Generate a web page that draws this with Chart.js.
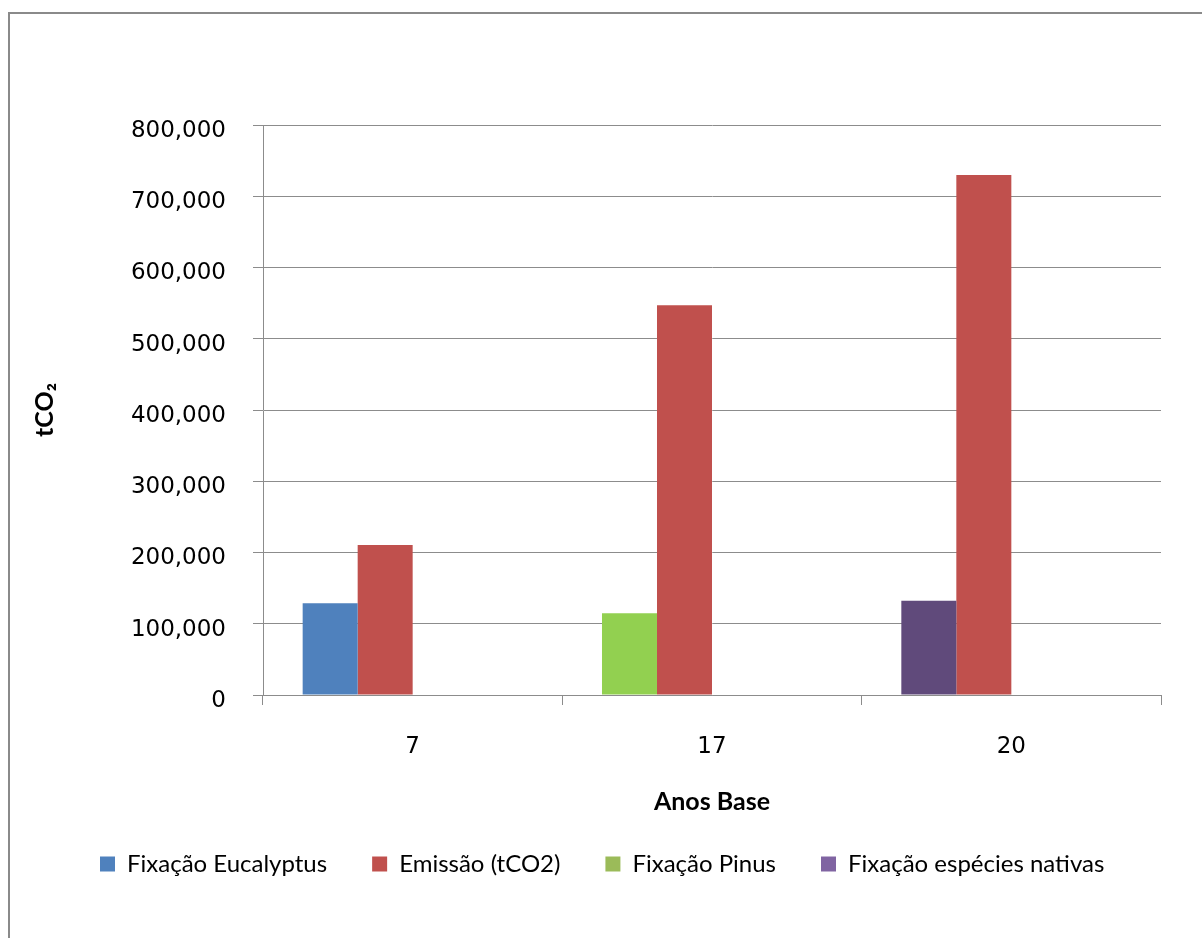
<!DOCTYPE html>
<html>
<head>
<meta charset="utf-8">
<script src="https://cdn.jsdelivr.net/npm/chart.js@4"></script>
<style>
  html, body { margin: 0; padding: 0; background: #fff; }
  #wrap { position: relative; width: 1202px; height: 938px; }
</style>
</head>
<body>
<div id="wrap"><canvas id="grafico"></canvas></div>
<script>
// anos base (eixo x)
const anosBase = ['7', '17', '20'];

// fixação: um valor por ano base, cada barra com a cor da espécie
const fixacao = [128600, 114600, 132300];
const coresFixacao = ['#4F81BD', '#92D050', '#604A7B'];

// emissão em tCO2
const emissao = [210400, 547000, 730000];

// séries da legenda (Pinus e nativas ficam sem valores próprios)
const nomesSeries = ['Fixação Eucalyptus', 'Emissão (tCO2)', 'Fixação Pinus', 'Fixação espécies nativas'];
const coresSeries = ['#4F81BD', '#C0504D', '#9BBB59', '#8064A2'];

// eixo y
const yMin = 0;
const yMax = 800000;
const yPasso = 100000;

const cinza = '#8c8c8c';
const fonteNum = 'DejaVu Sans';
const fonteTexto = 'Lato, "Noto Sans", sans-serif';
const margemEsq = 55;

// moldura da área do gráfico
const moldura = {
  id: 'moldura',
  beforeDraw(chart) {
    const ctx = chart.ctx;
    ctx.save();
    ctx.strokeStyle = '#8a8a8a';
    ctx.lineWidth = 2;
    ctx.beginPath();
    ctx.moveTo(9, chart.height);
    ctx.lineTo(9, 13);
    ctx.lineTo(chart.width, 13);
    ctx.stroke();
    ctx.restore();
  }
};

const dados = {
  labels: anosBase,
  datasets: [
    { label: nomesSeries[0], data: fixacao, backgroundColor: coresFixacao },
    { label: nomesSeries[1], data: emissao, backgroundColor: coresSeries[1] },
    { label: nomesSeries[2], data: [], backgroundColor: coresSeries[2] },
    { label: nomesSeries[3], data: [], backgroundColor: coresSeries[3] }
  ]
};

const config = {
  type: 'bar',
  data: dados,
  plugins: [moldura],
  options: {
    responsive: true,
    maintainAspectRatio: false,
    animation: false,
    categoryPercentage: 0.735,
    barPercentage: 1,
    layout: { padding: { left: margemEsq, right: 41, top: 125, bottom: 52 } },
    plugins: {
      tooltip: { enabled: false },
      legend: {
        position: 'bottom',
        align: 'start',
        labels: {
          boxWidth: 15,
          boxHeight: 15,
          padding: 45,
          color: '#000',
          font: { family: fonteTexto, size: 24 }
        }
      }
    },
    scales: {
      x: {
        grid: { drawOnChartArea: false, drawTicks: true, tickLength: 10, color: cinza, offset: true },
        border: { color: cinza, width: 1 },
        ticks: { color: '#000', padding: 28, font: { family: fonteNum, size: 23 } },
        title: {
          display: true,
          text: 'Anos Base',
          color: '#000',
          font: { family: fonteTexto, size: 25, weight: 'bold' },
          padding: { top: 0, bottom: -10 }
        },
        afterFit(scale) { scale.height = 112; }
      },
      y: {
        min: yMin,
        max: yMax,
        grid: { color: cinza, tickLength: 10, drawTicks: true },
        border: { color: cinza, width: 1 },
        ticks: {
          stepSize: yPasso,
          color: '#000',
          padding: 27,
          labelOffset: 6,
          font: { family: fonteNum, size: 23 },
          callback: (v) => v.toLocaleString('en-US')
        },
        title: {
          display: true,
          text: 'tCO₂',
          color: '#000',
          font: { family: fonteTexto, size: 25, weight: 'bold' },
          padding: { top: -25, bottom: 0 }
        },
        afterFit(scale) { scale.width = 263 - margemEsq; }
      }
    }
  }
};

new Chart(document.getElementById('grafico').getContext('2d'), config);
</script>
</body>
</html>
